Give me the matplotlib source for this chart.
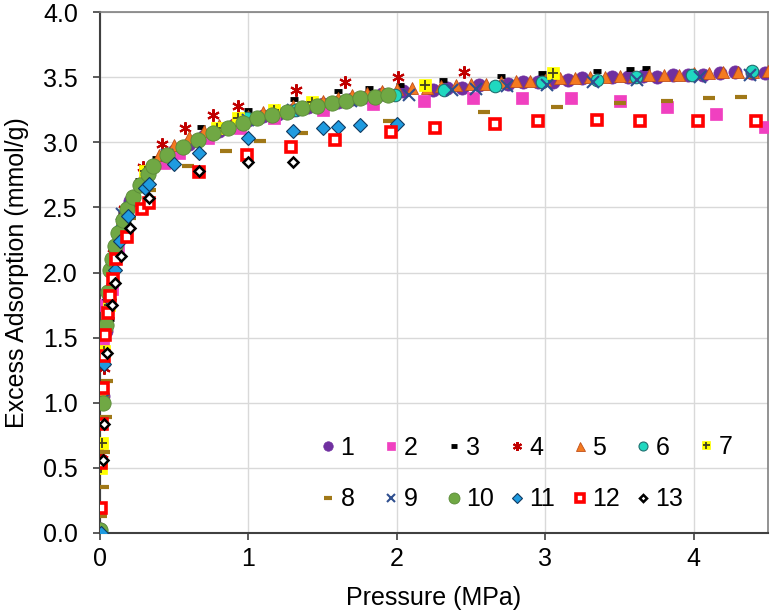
import matplotlib
matplotlib.use("Agg")
import matplotlib.pyplot as plt
from matplotlib.legend_handler import HandlerTuple

plt.rcParams['font.family'] = ['Liberation Sans', 'DejaVu Sans']

# ---- data (Pressure MPa, excess adsorption mmol/g) ----
p1 = [0.002, 0.02, 0.04, 0.06, 0.09, 0.13, 0.2, 0.3, 0.4, 0.5, 0.6, 0.7, 0.8, 0.9, 1.0, 1.1, 1.2, 1.3,
      1.4, 1.5, 1.6, 1.7, 1.8, 1.9,
      2.04, 2.24, 2.34, 2.44, 2.55, 2.75, 2.85, 2.95, 3.05, 3.15, 3.25, 3.45, 3.56, 3.66, 3.75, 3.86,
      3.96, 4.06, 4.18, 4.28, 4.39, 4.48]
q1 = [0.03, 1.05, 1.55, 1.85, 2.1, 2.3, 2.55, 2.72, 2.85, 2.93, 2.99, 3.05, 3.09, 3.13, 3.17, 3.2, 3.22, 3.25,
      3.27, 3.29, 3.31, 3.33, 3.35, 3.37,
      3.39, 3.40, 3.42, 3.42, 3.44, 3.45, 3.46, 3.46, 3.46, 3.48, 3.49, 3.50, 3.50, 3.51, 3.50, 3.52,
      3.52, 3.52, 3.53, 3.54, 3.53, 3.53]

p2 = [0.02, 0.04, 0.08, 0.12, 0.22, 0.43, 0.53, 0.73, 0.94, 1.17, 1.50, 1.84, 2.18, 2.51, 2.84, 3.17,
      3.50, 3.82, 4.15, 4.48]
q2 = [1.45, 1.75, 1.87, 2.20, 2.56, 2.84, 2.92, 3.03, 3.11, 3.19, 3.25, 3.29, 3.32, 3.34, 3.34, 3.34,
      3.32, 3.27, 3.22, 3.12]

p3 = [0.07, 0.15, 0.26, 0.38, 0.68, 1.0, 1.31, 1.60, 1.81, 2.02, 2.31, 2.70, 2.98, 3.35, 3.57, 3.68]
q3 = [1.64, 2.45, 2.71, 2.88, 3.12, 3.25, 3.33, 3.39, 3.42, 3.44, 3.48, 3.51, 3.53, 3.55, 3.56, 3.57]

p4 = [0.015, 0.03, 0.09, 0.16, 0.29, 0.42, 0.57, 0.76, 0.93, 1.32, 1.65, 2.01, 2.45]
q4 = [0.61, 1.27, 2.15, 2.49, 2.81, 2.99, 3.11, 3.21, 3.28, 3.40, 3.46, 3.50, 3.54]

p5 = [0.002, 0.02, 0.04, 0.06, 0.08, 0.1, 0.15, 0.2, 0.3, 0.4, 0.5, 0.6, 0.7, 0.8, 0.9, 1.0, 1.1, 1.2,
      1.3, 1.4, 1.5, 1.6, 1.7, 1.8, 1.9,
      2.0, 2.1, 2.2, 2.3, 2.4, 2.5, 2.6, 2.7, 2.8, 2.9, 3.0, 3.1, 3.2, 3.3, 3.4, 3.5, 3.6, 3.7, 3.8,
      3.9, 4.0, 4.1, 4.2, 4.3, 4.4, 4.5]
q5 = [0.02, 1.1, 1.6, 1.9, 2.08, 2.22, 2.42, 2.56, 2.77, 2.9, 2.98, 3.04, 3.09, 3.13, 3.17, 3.2, 3.23, 3.25,
      3.28, 3.3, 3.32, 3.34, 3.36, 3.38, 3.39,
      3.41, 3.42, 3.42, 3.43, 3.44, 3.45, 3.45, 3.46, 3.47, 3.47, 3.48, 3.49, 3.49, 3.50, 3.50, 3.51,
      3.51, 3.52, 3.52, 3.52, 3.53, 3.53, 3.54, 3.54, 3.54, 3.55]

p6 = [0.135, 0.19, 0.99, 1.32, 1.99, 2.32, 2.66, 2.98, 3.35, 3.61, 3.99, 4.39]
q6 = [2.33, 2.50, 3.19, 3.25, 3.36, 3.40, 3.43, 3.46, 3.48, 3.50, 3.52, 3.55]

p7 = [0.005, 0.013, 0.03, 0.06, 0.3, 0.79, 0.93, 1.17, 1.43, 2.19, 3.05]
q7 = [0.50, 0.69, 1.40, 1.75, 2.78, 3.11, 3.19, 3.25, 3.31, 3.44, 3.53]

p8 = [0.01, 0.02, 0.03, 0.04, 0.05, 0.20, 0.34, 0.59, 0.85, 1.08, 1.36, 1.95, 2.59, 3.08, 3.50, 3.82,
      4.10, 4.32]
q8 = [0.13, 0.35, 0.62, 0.89, 1.17, 2.42, 2.63, 2.82, 2.93, 3.01, 3.07, 3.16, 3.23, 3.27, 3.30, 3.32,
      3.34, 3.35]

p9 = [0.02, 0.15, 0.45, 1.0, 1.3, 1.69, 2.08, 2.37, 2.53, 2.74, 3.01, 3.32, 3.62, 4.04, 4.38]
q9 = [1.02, 2.45, 2.90, 3.17, 3.25, 3.32, 3.36, 3.40, 3.41, 3.43, 3.44, 3.46, 3.48, 3.50, 3.52]

p10 = [0.003, 0.02, 0.04, 0.055, 0.07, 0.08, 0.10, 0.12, 0.155, 0.18, 0.22, 0.27, 0.32, 0.36, 0.45,
       0.56, 0.66, 0.76, 0.86, 0.96, 1.06, 1.16, 1.26, 1.36, 1.46, 1.56, 1.66, 1.75, 1.85, 1.94]
q10 = [0.02, 1.0, 1.6, 1.85, 2.02, 2.10, 2.20, 2.30, 2.40, 2.49, 2.58, 2.67, 2.76, 2.82, 2.90,
       2.96, 3.02, 3.07, 3.11, 3.15, 3.19, 3.21, 3.23, 3.26, 3.28, 3.30, 3.32, 3.34, 3.35, 3.36]

p11 = [0.005, 0.03, 0.06, 0.10, 0.135, 0.19, 0.30, 0.33, 0.50, 0.67, 1.0, 1.30, 1.50, 1.60, 1.75, 2.0]
q11 = [0.0, 1.30, 1.80, 2.02, 2.24, 2.43, 2.65, 2.68, 2.83, 2.92, 3.03, 3.09, 3.11, 3.12, 3.13, 3.14]

p12 = [0.005, 0.01, 0.015, 0.02, 0.03, 0.035, 0.055, 0.07, 0.09, 0.11, 0.18, 0.28, 0.33, 0.67, 0.99,
       1.29, 1.58, 1.96, 2.26, 2.66, 2.95, 3.35, 3.64, 4.03, 4.42]
q12 = [0.19, 0.54, 0.84, 1.11, 1.36, 1.52, 1.69, 1.82, 1.95, 2.10, 2.27, 2.49, 2.53, 2.77, 2.90,
       2.96, 3.02, 3.08, 3.11, 3.14, 3.16, 3.17, 3.16, 3.16, 3.16]

p13 = [0.02, 0.03, 0.045, 0.08, 0.10, 0.14, 0.20, 0.33, 0.67, 1.0, 1.30]
q13 = [0.56, 0.84, 1.38, 1.75, 1.92, 2.13, 2.34, 2.57, 2.78, 2.85, 2.85]

labels = [str(i) for i in range(1, 14)]
x_ticks = [0, 1, 2, 3, 4]
y_ticks = [0.0, 0.5, 1.0, 1.5, 2.0, 2.5, 3.0, 3.5, 4.0]

W, H = 774, 614
fig = plt.figure(figsize=(W / 100, H / 100), dpi=100)
ax = fig.add_axes([100 / W, 1 - 533 / H, 668 / W, 521 / H])

ast6 = (6, 2, 0)
styles = [
    dict(marker='o', ms=9.5, mfc='#7030a0', mec='#7030a0', mew=0.5),
    dict(marker='s', ms=8, mfc='#f040c0', mec='#f040c0', mew=0.5),
    dict(marker='_', ms=5.5, mfc='black', mec='black', mew=3.5),
    dict(marker=ast6, ms=9, mfc='#c00000', mec='#c00000', mew=1.5),
    dict(marker='^', ms=9, mfc='#f47a20', mec='#c0501a', mew=0.6),
    dict(marker='o', ms=9, mfc='#20d8c0', mec='#207070', mew=0.8),
    dict(marker='s', ms=8, mfc='#ffff00', mec='#ffff00', mew=0.5),
    dict(marker='_', ms=8, mfc='#a07818', mec='#a07818', mew=3),
    dict(marker='x', ms=8, mfc='#2f4f8f', mec='#2f4f8f', mew=1.5),
    dict(marker='o', ms=11, mfc='#70a844', mec='#5a8a38', mew=0.6),
    dict(marker='D', ms=7, mfc='#1f9be0', mec='#103a60', mew=0.8),
    dict(marker='s', ms=7.5, mfc='white', mec='#ff0000', mew=2.6),
    dict(marker='D', ms=5, mfc='white', mec='black', mew=1.8),
]
P = [p1, p2, p3, p4, p5, p6, p7, p8, p9, p10, p11, p12, p13]
Q = [q1, q2, q3, q4, q5, q6, q7, q8, q9, q10, q11, q12, q13]

handles = []
for i, (pp, qq, st) in enumerate(zip(P, Q, styles)):
    h, = ax.plot(pp, qq, linestyle='none', zorder=3 + i, **st)
    if i == 6:
        h2, = ax.plot(pp, qq, linestyle='none', marker='+', ms=7, mec='#404020', mew=1.3, zorder=3 + i)
        handles.append((h, h2))
    else:
        handles.append(h)

ax.set_xlim(0, 4.5)
ax.set_ylim(0, 4.0)
ax.set_xticks(x_ticks)
ax.set_yticks(y_ticks)
ax.set_xticklabels([str(t) for t in x_ticks])
ax.set_yticklabels([f"{t:.1f}" for t in y_ticks])
ax.grid(True, color='#d9d9d9', linewidth=1)
ax.set_axisbelow(True)
ax.tick_params(axis='both', labelsize=18, direction='out', length=5, width=1.2,
               color='#404040')
ax.tick_params(axis='y', pad=11)
ax.tick_params(axis='x', pad=5)
for s in ['left', 'bottom']:
    ax.spines[s].set_color('#404040')
    ax.spines[s].set_linewidth(1.5)
for s in ['top', 'right']:
    ax.spines[s].set_color('#808080')
    ax.spines[s].set_linewidth(1.2)

ax.set_xlabel('Pressure (MPa)', fontsize=18, labelpad=11)
ax.set_ylabel('Excess Adsorption (mmol/g)', fontsize=18, labelpad=10)

# legend: 7 fixed-width columns, two rows (1-7 on top, 8-13 below)
fs = 18
fs_px = fs * 100 / 72
hl = 0.6
col_x0, col_dx = 328, 63          # marker centre of first column, column pitch (px)
row1_y, row2_y = 447, 500          # row centres (px)
for c in range(7):
    idx = [c] + ([c + 7] if c + 7 < 13 else [])
    xl = col_x0 + col_dx * c - hl * fs_px / 2
    yc = (row1_y + row2_y) / 2 if len(idx) == 2 else row1_y
    leg = fig.legend([handles[k] for k in idx], [labels[k] for k in idx],
                     loc='center left', bbox_to_anchor=(xl / W, 1 - yc / H),
                     frameon=False, fontsize=fs, handlelength=hl, handletextpad=0.2,
                     labelspacing=1.1, markerscale=0.72, borderpad=0, borderaxespad=0,
                     handler_map={tuple: HandlerTuple(ndivide=1, pad=0)})

fig.savefig('out.png', dpi=100)
